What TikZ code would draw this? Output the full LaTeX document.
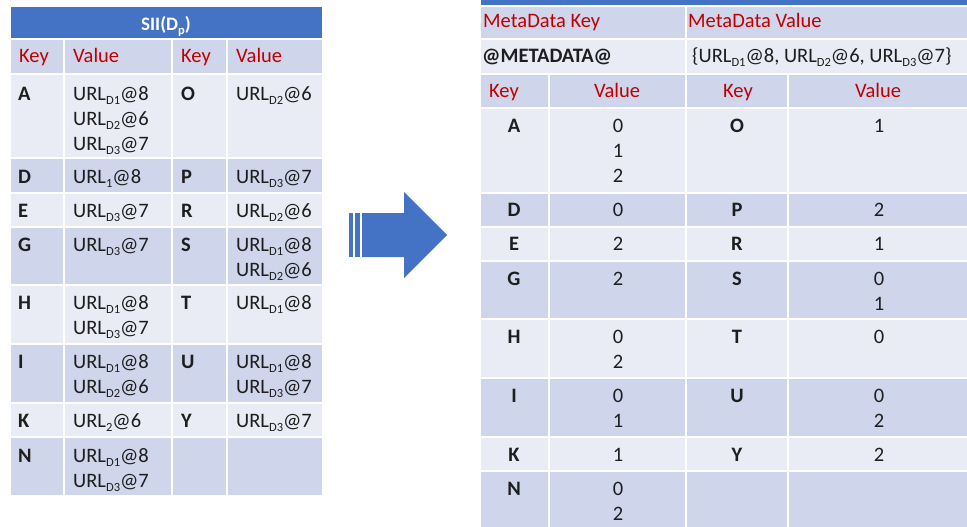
\documentclass[tikz,border=0pt]{standalone}
\usepackage{fontspec}
\setmainfont{Carlito}
\definecolor{hdrblue}{HTML}{4472C4}
\definecolor{rowdark}{HTML}{CFD5EA}
\definecolor{rowlight}{HTML}{E9EBF5}
\definecolor{hdrred}{HTML}{C00000}
\definecolor{inktext}{HTML}{1E1E1E}
\newcommand\bodysize{\fontsize{20.5}{25}\selectfont}
\newcommand\subx[1]{\raisebox{-4pt}{\fontsize{12.5}{12.5}\selectfont #1}}
\tikzset{
  lbl/.style={anchor=base west, inner sep=0pt, text=inktext, font=\bodysize},
  keyL/.style={lbl, font=\bodysize\bfseries},
  hdrL/.style={lbl, text=hdrred},
  ctr/.style={anchor=base, inner sep=0pt, text=inktext, font=\bodysize},
  keyC/.style={ctr, font=\bodysize\bfseries},
  hdrC/.style={ctr, text=hdrred},
  gridline/.style={draw=white, line width=2pt},
}
\begin{document}
\begin{tikzpicture}[x=1pt,y=-1pt]
\useasboundingbox (0,0) rectangle (967,527);

% ---------- left table: SII(D_p) ----------
\fill[hdrblue]  (11,7)     rectangle (322,39.5);
\fill[rowdark]  (11,39.5)  rectangle (322,74.5);
\fill[rowlight] (11,74.5)  rectangle (322,158);
\fill[rowdark]  (11,158)   rectangle (322,192.5);
\fill[rowlight] (11,192.5) rectangle (322,226.5);
\fill[rowdark]  (11,226.5) rectangle (322,284.5);
\fill[rowlight] (11,284.5) rectangle (322,343.5);
\fill[rowdark]  (11,343.5) rectangle (322,402.5);
\fill[rowlight] (11,402.5) rectangle (322,436.5);
\fill[rowdark]  (11,436.5) rectangle (322,495);
\foreach \yy in {39.5,74.5,158,192.5,226.5,284.5,343.5,402.5,436.5}
  \draw[gridline] (11,\yy) -- (322,\yy);
\foreach \xx in {64,172,227}
  \draw[gridline] (\xx,39.5) -- (\xx,495);

\node[anchor=base, inner sep=0pt, text=white, font=\fontsize{19}{22}\selectfont\bfseries] (ltitle) at (166,31) {SII(D\subx{p})};

\node[hdrL] (lhK1) at (19,63) {Key};
\node[hdrL] (lhV1) at (73,63) {Value};
\node[hdrL] (lhK2) at (181,63) {Key};
\node[hdrL] (lhV2) at (236,63) {Value};

\node[keyL] (lkA) at (18,100) {A};
\node[lbl] (lvA1) at (73,100) {URL\subx{D1}@8};
\node[lbl] (lvA2) at (73,125) {URL\subx{D2}@6};
\node[lbl] (lvA3) at (73,150) {URL\subx{D3}@7};
\node[keyL] (lkO) at (181,100) {O};
\node[lbl] (lvO1) at (236,100) {URL\subx{D2}@6};

\node[keyL] (lkD) at (18,183) {D};
\node[lbl] (lvD1) at (73,183) {URL\subx{1}@8};
\node[keyL] (lkP) at (181,183) {P};
\node[lbl] (lvP1) at (236,183) {URL\subx{D3}@7};

\node[keyL] (lkE) at (18,217) {E};
\node[lbl] (lvE1) at (73,217) {URL\subx{D3}@7};
\node[keyL] (lkR) at (181,217) {R};
\node[lbl] (lvR1) at (236,217) {URL\subx{D2}@6};

\node[keyL] (lkG) at (18,251) {G};
\node[lbl] (lvG1) at (73,251) {URL\subx{D3}@7};
\node[keyL] (lkS) at (181,251) {S};
\node[lbl] (lvS1) at (236,251) {URL\subx{D1}@8};
\node[lbl] (lvS2) at (236,276) {URL\subx{D2}@6};

\node[keyL] (lkH) at (18,309) {H};
\node[lbl] (lvH1) at (73,309) {URL\subx{D1}@8};
\node[lbl] (lvH2) at (73,334) {URL\subx{D3}@7};
\node[keyL] (lkT) at (181,309) {T};
\node[lbl] (lvT1) at (236,309) {URL\subx{D1}@8};

\node[keyL] (lkI) at (18,368) {I};
\node[lbl] (lvI1) at (73,368) {URL\subx{D1}@8};
\node[lbl] (lvI2) at (73,393) {URL\subx{D2}@6};
\node[keyL] (lkU) at (181,368) {U};
\node[lbl] (lvU1) at (236,368) {URL\subx{D1}@8};
\node[lbl] (lvU2) at (236,393) {URL\subx{D3}@7};

\node[keyL] (lkK) at (18,427) {K};
\node[lbl] (lvK1) at (73,427) {URL\subx{2}@6};
\node[keyL] (lkY) at (181,427) {Y};
\node[lbl] (lvY1) at (236,427) {URL\subx{D3}@7};

\node[keyL] (lkN) at (18,462) {N};
\node[lbl] (lvN1) at (73,462) {URL\subx{D1}@8};
\node[lbl] (lvN2) at (73,487) {URL\subx{D3}@7};

% ---------- block arrow ----------
\fill[hdrblue] (349,213) rectangle (353,257);
\fill[hdrblue] (355,213) rectangle (360,257);
\fill[hdrblue] (362,213) -- (404,213) -- (404,192) -- (447,235)
               -- (404,278) -- (404,257) -- (362,257) -- cycle;

% ---------- right table: metadata index ----------
\fill[hdrblue]  (481,0)     rectangle (967,6);
\fill[rowdark]  (481,6)     rectangle (967,39.5);
\fill[rowlight] (481,39.5)  rectangle (967,74.5);
\fill[rowdark]  (481,74.5)  rectangle (967,107.5);
\fill[rowlight] (481,107.5) rectangle (967,193);
\fill[rowdark]  (481,193)   rectangle (967,226.5);
\fill[rowlight] (481,226.5) rectangle (967,260.5);
\fill[rowdark]  (481,260.5) rectangle (967,319);
\fill[rowlight] (481,319)   rectangle (967,377.5);
\fill[rowdark]  (481,377.5) rectangle (967,436.5);
\fill[rowlight] (481,436.5) rectangle (967,470.5);
\fill[rowdark]  (481,470.5) rectangle (967,527);
\foreach \yy in {6,39.5,74.5,107.5,193,226.5,260.5,319,377.5,436.5,470.5}
  \draw[gridline] (481,\yy) -- (967,\yy);
\draw[gridline] (686,6) -- (686,527);
\foreach \xx in {549,788}
  \draw[gridline] (\xx,74.5) -- (\xx,527);

\node[hdrL] (rmK) at (483,28) {MetaData Key};
\node[hdrL] (rmV) at (688,28) {MetaData Value};
\node[keyL] (rmKey) at (482,63) {@METADATA@};
\node[lbl] (rmVal) at (692,63) {\{URL\subx{D1}@8, URL\subx{D2}@6, URL\subx{D3}@7\}};

\node[hdrC] (rhK1) at (504,97) {Key};
\node[hdrC] (rhV1) at (617,97) {Value};
\node[hdrC] (rhK2) at (738,97) {Key};
\node[hdrC] (rhV2) at (878,97) {Value};

\node[keyC] (rkA) at (514,132) {A};
\node[ctr] (rvA1) at (618,132) {0};
\node[ctr] (rvA2) at (618,157) {1};
\node[ctr] (rvA3) at (618,182) {2};
\node[keyC] (rkO) at (737,132) {O};
\node[ctr] (rvO1) at (879,132) {1};

\node[keyC] (rkD) at (514,216) {D};
\node[ctr] (rvD1) at (618,216) {0};
\node[keyC] (rkP) at (737,216) {P};
\node[ctr] (rvP1) at (879,216) {2};

\node[keyC] (rkE) at (514,250) {E};
\node[ctr] (rvE1) at (618,250) {2};
\node[keyC] (rkR) at (737,250) {R};
\node[ctr] (rvR1) at (879,250) {1};

\node[keyC] (rkG) at (514,285) {G};
\node[ctr] (rvG1) at (618,285) {2};
\node[keyC] (rkS) at (737,285) {S};
\node[ctr] (rvS1) at (879,285) {0};
\node[ctr] (rvS2) at (879,310) {1};

\node[keyC] (rkH) at (514,343) {H};
\node[ctr] (rvH1) at (618,343) {0};
\node[ctr] (rvH2) at (618,368) {2};
\node[keyC] (rkT) at (737,343) {T};
\node[ctr] (rvT1) at (879,343) {0};

\node[keyC] (rkI) at (514,402) {I};
\node[ctr] (rvI1) at (618,402) {0};
\node[ctr] (rvI2) at (618,427) {1};
\node[keyC] (rkU) at (737,402) {U};
\node[ctr] (rvU1) at (879,402) {0};
\node[ctr] (rvU2) at (879,427) {2};

\node[keyC] (rkK) at (514,461) {K};
\node[ctr] (rvK1) at (618,461) {1};
\node[keyC] (rkY) at (737,461) {Y};
\node[ctr] (rvY1) at (879,461) {2};

\node[keyC] (rkN) at (514,495) {N};
\node[ctr] (rvN1) at (618,495) {0};
\node[ctr] (rvN2) at (618,520) {2};
\end{tikzpicture}
\end{document}
